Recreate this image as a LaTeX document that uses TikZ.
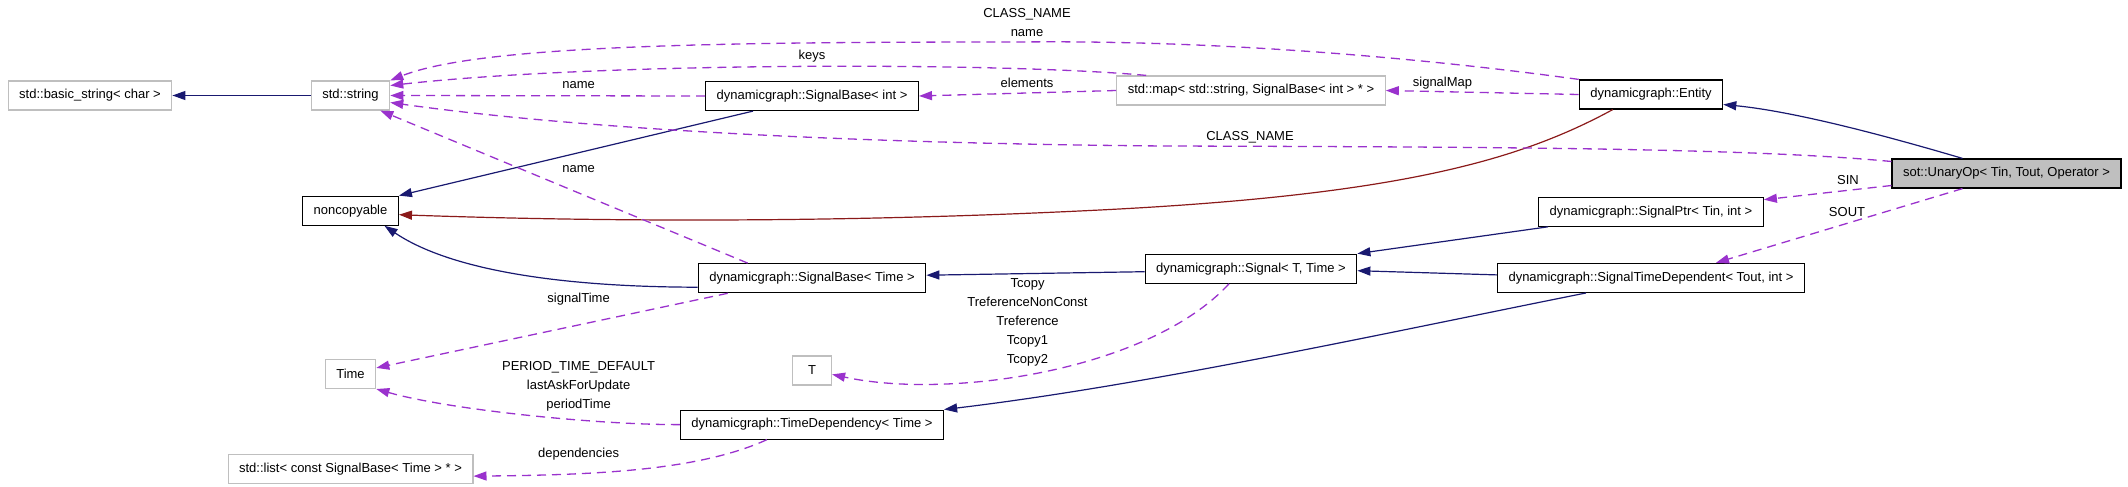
\documentclass[tikz,border=0pt]{standalone}
\usepackage{fontspec}
\setmainfont{Liberation Sans}
\usepackage{xcolor}
\usepackage{tikz}
\usetikzlibrary{arrows.meta,positioning}

\definecolor{inhblue}{RGB}{25,25,112}
\definecolor{usepurple}{RGB}{154,50,205}
\definecolor{privred}{RGB}{139,26,26}
\definecolor{boxgrey}{RGB}{191,191,191}
\newcommand{\dgfont}{\fontsize{13}{19}\selectfont}

\begin{document}
\begin{tikzpicture}[
    x=1pt,y=-1pt,
    node distance=40pt and 40pt,
    cls/.style={rectangle,draw=black,line width=1.2pt,fill=white,
                minimum height=29pt,minimum width=39pt,inner xsep=11pt,font=\dgfont},
    ext/.style={cls,draw=boxgrey},
    focus/.style={cls,fill=boxgrey},
    lbl/.style={align=center,inner sep=0pt,font=\dgfont},
    inh/.style={-{Triangle[length=13pt,width=9pt]},line width=1.2pt,draw=inhblue},
    priv/.style={inh,draw=privred},
    member/.style={-{Triangle[length=13pt,width=9pt]},line width=1.3pt,draw=usepurple,
                   dash pattern=on 9pt off 6pt}
]
\useasboundingbox (0,0) rectangle (2128,487);

% column of std types
\node[ext] (str) at (350.5,95.5) {std::string};
\node[ext] (bstr) at (90,95.5) {std::basic\_string< char >};
\node[cls,below=85pt of str] (noncp) {noncopyable};
\node[ext,below=133pt of noncp] (time) {Time};
\node[ext,below=65pt of time] (lst) {std::list< const SignalBase< Time > * >};

% signal bases
\node[cls] (sbint) at (812,96) {dynamicgraph::SignalBase< int >};
\node[cls,below=152pt of sbint] (sbtime) {dynamicgraph::SignalBase< Time >};
\node[ext,below=62pt of sbtime] (tt) {T};
\node[cls,below=24pt of tt] (tdep) {dynamicgraph::TimeDependency< Time >};

\node[ext] (smap) at (1251,90.5) {std::map< std::string, SignalBase< int > * >};
\node[cls,below=148pt of smap] (sig) {dynamicgraph::Signal< T, Time >};

\node[cls] (ent) at (1651,94.5) {dynamicgraph::Entity};
\node[cls,below=87pt of ent] (sptr) {dynamicgraph::SignalPtr< Tin, int >};
\node[cls,below=36pt of sptr] (stdep) {dynamicgraph::SignalTimeDependent< Tout, int >};

\node[focus] (unary) at (2006.5,173.5) {sot::UnaryOp< Tin, Tout, Operator >};

% edge labels
\node[lbl] (lclsA) at (1027,22.5) {CLASS\_NAME\\name};
\node[lbl] (lkeys) at (812,56) {keys};
\node[lbl] (lnameA) at (578.6,85) {name};
\node[lbl] (lelem) at (1027,83) {elements};
\node[lbl] (lsmap) at (1442.5,83) {signalMap};
\node[lbl] (lclsB) at (1250,137) {CLASS\_NAME};
\node[lbl] (lnameB) at (578.6,169) {name};
\node[lbl] (lsin) at (1848,180) {SIN};
\node[lbl] (lsout) at (1847,212) {SOUT};
\node[lbl] (lsigt) at (578.6,299) {signalTime};
\node[lbl] (ltcopy) at (1027.5,322) {Tcopy\\TreferenceNonConst\\Treference\\Tcopy1\\Tcopy2};
\node[lbl] (lperiod) at (578.6,386) {PERIOD\_TIME\_DEFAULT\\lastAskForUpdate\\periodTime};
\node[lbl] (ldeps) at (578.6,454) {dependencies};

% inheritance
\draw[inh] (str) -- (bstr);
\draw[inh] ([xshift=48pt]sbint.south west) -- (noncp.north east);
\draw[inh] ([yshift=-9pt]sbtime.west) .. controls (560,287) and (450,270) .. ([xshift=34pt]noncp.south);
\draw[priv] ([xshift=34pt]ent.south west) .. controls (1520,160) and (1400,195) .. (1100,210)
    .. controls (800,225) and (550,220) .. ([yshift=-4pt]noncp.east);
\draw[inh] ([xshift=-44pt]unary.north) .. controls (1900,140) and (1800,112) .. ([yshift=-10pt]ent.east);
\draw[inh] ([xshift=10pt]sptr.south west) -- (sig.north east);
\draw[inh] ([yshift=3pt]stdep.west) -- ([yshift=-2pt]sig.east);
\draw[inh] ([xshift=89pt]stdep.south west) .. controls (1400,330) and (1150,385) .. (tdep.north east);
\draw[inh] ([yshift=-3pt]sig.west) -- ([yshift=3pt]sbtime.east);

% members
\draw[member] (ent.north west) .. controls (1400,55) and (1200,40) .. (1020,42)
    .. controls (720,42) and (480,45) .. (str.north east);
\draw[member] ([xshift=30pt]smap.north west) .. controls (1000,62) and (600,62) .. ([yshift=10pt]str.east);
\draw[member] (sbint.west) -- (str.east);
\draw[member] ([yshift=12pt]unary.west) .. controls (1750,148) and (1500,147) .. (1165,146)
    .. controls (800,143) and (550,125) .. ([yshift=-7pt]str.east);
\draw[member] ([xshift=50pt]sbtime.north west) -- ([xshift=-10pt]str.south east);
\draw[member] (ent.west) -- (smap.east);
\draw[member] (smap.west) -- (sbint.east);
\draw[member] ([yshift=-12pt]unary.west) -- ([yshift=12pt]sptr.east);
\draw[member] ([xshift=-44pt]unary.south) -- ([xshift=65pt]stdep.north);
\draw[member] ([xshift=30pt]sbtime.south west) -- ([yshift=6pt]time.east);
\draw[member] (tdep.west) .. controls (600,425) and (450,410) .. (time.south east);
\draw[member] ([xshift=87pt]tdep.south west) .. controls (700,470) and (600,475) .. ([yshift=-7pt]lst.east);
\draw[member] ([xshift=-22pt]sig.south) .. controls (1150,370) and (950,400) .. ([yshift=-4pt]tt.east);
\end{tikzpicture}
\end{document}
